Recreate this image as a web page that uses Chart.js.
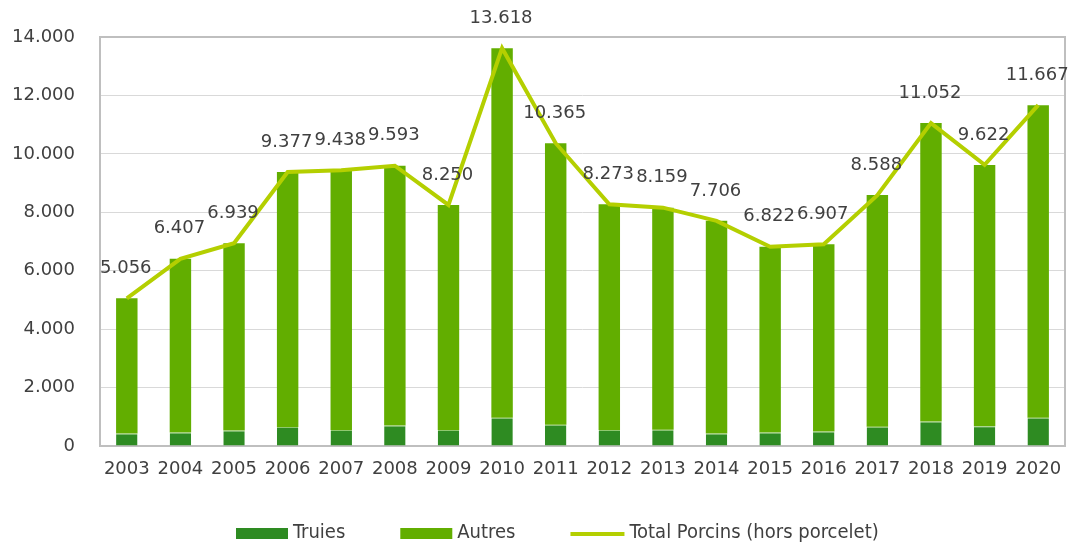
<!DOCTYPE html>
<html>
<head>
<meta charset="utf-8">
<script src="https://cdn.jsdelivr.net/npm/chart.js@4.4.1/dist/chart.umd.min.js"></script>
<style>
  html, body { margin: 0; padding: 0; background: #fff; }
  #wrap { width: 1068px; height: 547px; }
</style>
</head>
<body>
<div id="wrap"><canvas id="porcChart" width="1068" height="547"></canvas></div>
<script>
// categories and values
const years = ['2003', '2004', '2005', '2006', '2007', '2008', '2009', '2010', '2011',
  '2012', '2013', '2014', '2015', '2016', '2017', '2018', '2019', '2020'];
const totalPorcins = [5056, 6407, 6939, 9377, 9438, 9593, 8250, 13618, 10365,
  8273, 8159, 7706, 6822, 6907, 8588, 11052, 9622, 11667];
const truies = [430, 460, 530, 650, 550, 700, 550, 970, 730,
  550, 560, 430, 460, 500, 660, 835, 675, 970];
// Autres = total minus truies
const autres = totalPorcins.map((t, i) => t - truies[i]);
const yTicks = [0, 2000, 4000, 6000, 8000, 10000, 12000, 14000];

const textColor = '#404040';

// 12345 -> "12.345"
const fmt = (v) => String(Math.round(v)).replace(/\B(?=(\d{3})+(?!\d))/g, '.');

// plot frame (grey box around the plot area)
const framePlugin = {
  id: 'frame',
  beforeDatasetsDraw(chart) {
    const { ctx, chartArea: a } = chart;
    ctx.save();
    ctx.strokeStyle = '#bfbfbf';
    ctx.lineWidth = 2;
    ctx.strokeRect(a.left, a.top, a.right - a.left, a.bottom - a.top);
    ctx.restore();
  }
};

// value labels above the total line
const lineLabels = {
  id: 'lineLabels',
  afterDatasetsDraw(chart) {
    const { ctx } = chart;
    const idx = chart.data.datasets.findIndex((d) => d.type === 'line');
    const meta = chart.getDatasetMeta(idx);
    ctx.save();
    ctx.font = '18px "DejaVu Sans"';
    ctx.fillStyle = textColor;
    ctx.textAlign = 'center';
    ctx.textBaseline = 'middle';
    meta.data.forEach((pt, i) => {
      ctx.fillText(fmt(chart.data.datasets[idx].data[i]), pt.x - 1, pt.y - 30);
    });
    ctx.restore();
  }
};

// legend: wide boxes for bars, a line for the total
const legendPlugin = {
  id: 'customLegend',
  afterDraw(chart) {
    const { ctx } = chart;
    ctx.save();
    ctx.font = '20px "DejaVu Sans Condensed"';
    ctx.fillStyle = textColor;
    ctx.textBaseline = 'middle';
    let x = 236;
    const y = 533;
    chart.data.datasets.forEach((ds) => {
      if (ds.type === 'line') {
        ctx.strokeStyle = ds.borderColor;
        ctx.lineWidth = 4;
        ctx.beginPath();
        ctx.moveTo(x, y + 1);
        ctx.lineTo(x + 54, y + 1);
        ctx.stroke();
        x += 54;
      } else {
        ctx.fillStyle = ds.backgroundColor;
        ctx.fillRect(x, y - 5, 52, 11);
        x += 52;
      }
      x += 5;
      ctx.fillStyle = textColor;
      ctx.fillText(ds.label, x, y);
      x += ctx.measureText(ds.label).width + 55;
    });
    ctx.restore();
  }
};

const ctx = document.getElementById('porcChart');

new Chart(ctx, {
  data: {
    labels: years,
    datasets: [
      {
        type: 'bar',
        label: 'Truies',
        data: truies,
        backgroundColor: '#2e8b22',
        borderColor: '#8fc870',
        borderWidth: { top: 1, left: 0, right: 0, bottom: 0 },
        stack: 'porcs',
        order: 2,
        barPercentage: 0.4,
        categoryPercentage: 1
      },
      {
        type: 'bar',
        label: 'Autres',
        data: autres,
        backgroundColor: '#62ae00',
        stack: 'porcs',
        order: 2,
        barPercentage: 0.4,
        categoryPercentage: 1
      },
      {
        type: 'line',
        label: 'Total Porcins (hors porcelet)',
        data: totalPorcins,
        borderColor: '#b4cf00',
        backgroundColor: '#b4cf00',
        borderWidth: 4,
        pointRadius: 0,
        tension: 0,
        stack: 'total',
        order: 1
      }
    ]
  },
  options: {
    responsive: false,
    animation: false,
    layout: { padding: { top: 37, right: 3, bottom: 0, left: 0 } },
    plugins: {
      legend: { display: false },
      tooltip: { enabled: false }
    },
    scales: {
      x: {
        stacked: true,
        grid: { display: false, drawTicks: false },
        border: { display: false },
        ticks: {
          color: textColor,
          font: { family: 'DejaVu Sans', size: 18 },
          padding: 13,
          maxRotation: 0,
          autoSkip: false
        },
        afterFit(scale) {
          scale.height = 101;
          scale.paddingLeft = 0;
          scale.paddingRight = 0;
        }
      },
      y: {
        stacked: true,
        min: 0,
        max: 14000,
        afterBuildTicks(scale) { scale.ticks = yTicks.map((v) => ({ value: v })); },
        grid: { color: '#d9d9d9', lineWidth: 1, drawTicks: false },
        border: { display: false },
        ticks: {
          color: textColor,
          font: { family: 'DejaVu Sans', size: 18 },
          padding: 25,
          callback: (v) => fmt(v)
        },
        afterFit(scale) { scale.width = 100; }
      }
    }
  },
  plugins: [framePlugin, lineLabels, legendPlugin]
});
</script>
</body>
</html>
